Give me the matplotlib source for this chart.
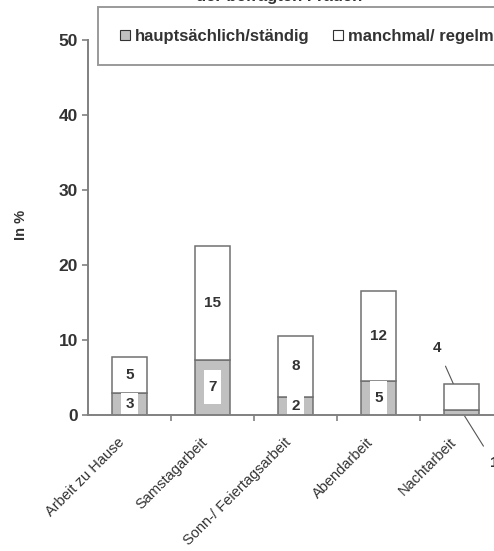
import matplotlib.pyplot as plt
from matplotlib.patches import Rectangle, Patch
from matplotlib.transforms import ScaledTranslation

plt.rcParams['font.family'] = ['Liberation Sans', 'DejaVu Sans']

# data (in %)
categories = ["Arbeit zu Hause", "Samstagarbeit", "Sonn-/ Feiertagsarbeit",
              "Abendarbeit", "Nachtarbeit"]
haupt = [2.9, 7.4, 2.4, 4.6, 0.7]      # hauptsächlich/ständig
manch = [4.9, 15.1, 8.2, 11.9, 3.5]    # manchmal/ regelmäßig
haupt_labels = ["3", "7", "2", "5", "1"]
manch_labels = ["5", "15", "8", "12", "4"]
series_names = ["hauptsächlich/ständig", "manchmal/ regelmäßig"]
yticks = [0, 10, 20, 30, 40, 50]

gray = "#c0c0c0"
edge = "#707070"
width = 0.41

fig = plt.figure(figsize=(4.94, 5.51), dpi=100)
ax = fig.add_axes([88 / 494, 136 / 551, 415 / 494, 375 / 551])

x = list(range(len(categories)))
ax.bar(x, haupt, width, color=gray, edgecolor=edge, linewidth=1.1, zorder=2)
ax.bar(x, manch, width, bottom=haupt, color="white", edgecolor=edge,
       linewidth=1.1, zorder=2)

# labels of the lower segments sit in white boxes
for i in range(len(categories) - 1):
    h = min(haupt[i] + 0.2, 4.5)
    ax.add_patch(Rectangle((i - 0.1, haupt[i] / 2 - h / 2), 0.2, h,
                           facecolor="white", edgecolor="none", zorder=3))
    ax.text(i, haupt[i] / 2, haupt_labels[i], ha="center", va="center",
            fontsize=11, fontweight="bold", color="#333333", zorder=4)
for i in range(len(categories) - 1):
    ax.text(i, haupt[i] + manch[i] / 2, manch_labels[i], ha="center",
            va="center", fontsize=11, fontweight="bold", color="#333333",
            zorder=4)

# Nachtarbeit: labels outside with leader lines
n = len(categories) - 1
ax.annotate(manch_labels[n], xy=(n - 0.1, haupt[n] + manch[n]),
            xytext=(-16, 36), textcoords="offset pixels", ha="center",
            va="center", fontsize=11, fontweight="bold", color="#333333",
            arrowprops=dict(arrowstyle="-", color="#555555", lw=0.8,
                            shrinkA=7, shrinkB=0))
ax.annotate(haupt_labels[n], xy=(n + 0.03, 0), xytext=(30, -48),
            textcoords="offset pixels", ha="center", va="center",
            fontsize=11, fontweight="bold", color="#333333",
            arrowprops=dict(arrowstyle="-", color="#555555", lw=0.8,
                            shrinkA=6, shrinkB=0), annotation_clip=False)

ax.set_xlim(-0.5, 4.5)
ax.set_ylim(0, 50)
ax.set_yticks(yticks)
ax.set_xticks([i + 0.5 for i in x[:-1]])
ax.set_xticklabels([])

# category names, rotated, ending just left of the bar centres
offset = ScaledTranslation(-7 / 100, -25 / 100, fig.dpi_scale_trans)
for i, name in enumerate(categories):
    ax.text(i, 0, name, transform=ax.get_xaxis_transform() + offset,
            rotation=45, ha="right", va="center", rotation_mode="anchor",
            fontsize=10.5, color="#333333", clip_on=False)

ax.tick_params(axis="x", which="major", direction="out", length=4,
               color="#808080", width=1.2)
ax.tick_params(axis="y", direction="out", length=4.3, color="#808080",
               width=1.2, pad=3, labelsize=12.5, labelcolor="#333333")
for lab in ax.get_yticklabels():
    lab.set_fontweight("bold")
for side in ["top", "right"]:
    ax.spines[side].set_visible(False)
for side in ["left", "bottom"]:
    ax.spines[side].set_color("#808080")
    ax.spines[side].set_linewidth(1.4)
    ax.spines[side].set_zorder(5)

fig.text(21 / 494, 1 - 225 / 551, "In %", rotation=90, ha="center",
         va="center", fontsize=10.5, fontweight="bold", color="#333333")

# title is clipped at the top of the picture
fig.text(0.565, 1 - 1 / 551, "der befragten Frauen", ha="center",
         va="baseline", fontsize=12, fontweight="bold", color="#333333")

handles = [Patch(facecolor=gray, edgecolor="#333333", linewidth=0.8),
           Patch(facecolor="white", edgecolor="#333333", linewidth=0.8)]
leg = fig.legend(handles, series_names, loc="upper left",
                 bbox_to_anchor=(98 / 494, 1 - 7 / 551), borderaxespad=0,
                 ncol=2, frameon=True, fancybox=False, borderpad=1.3,
                 handlelength=0.6, handleheight=0.6, handletextpad=0.3,
                 columnspacing=1.4, prop=dict(size=12, weight="bold"))
leg.get_frame().set_edgecolor("#808080")
leg.get_frame().set_linewidth(1.4)
for t in leg.get_texts():
    t.set_color("#333333")

fig.savefig("out.png", dpi=100)
